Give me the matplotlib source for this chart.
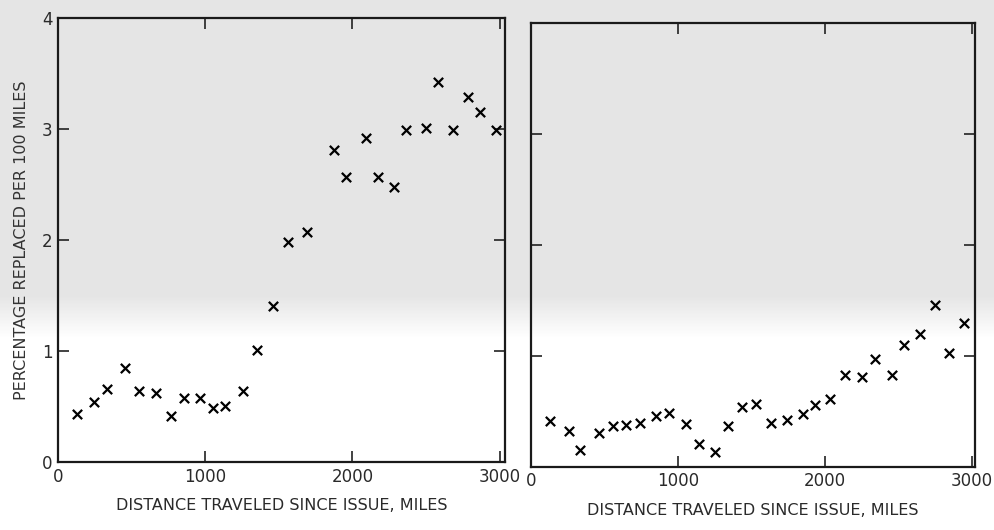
import numpy as np
import matplotlib
matplotlib.use('Agg')
from matplotlib import pyplot as plt

# left panel: percentage replaced per 100 miles vs distance
miles_a = [129, 244, 333, 452, 550, 663, 765, 853, 962, 1052, 1133, 1256, 1353, 1459,
           1561, 1690, 1873, 1957, 2093, 2174, 2285, 2364, 2500, 2584, 2686, 2783, 2869, 2975]
pct_a = [0.43, 0.54, 0.66, 0.85, 0.64, 0.62, 0.42, 0.58, 0.58, 0.49, 0.51, 0.64, 1.01, 1.41,
         1.98, 2.07, 2.81, 2.57, 2.92, 2.57, 2.48, 2.99, 3.01, 3.42, 2.99, 3.29, 3.15, 2.99]

# right panel (same axes, no y labels)
miles_b = [131, 255, 330, 463, 555, 643, 743, 853, 939, 1054, 1142, 1253, 1341, 1436, 1530,
           1634, 1740, 1851, 1932, 2032, 2140, 2253, 2343, 2456, 2537, 2648, 2749, 2844, 2948]
pct_b = [0.41, 0.32, 0.15, 0.31, 0.37, 0.38, 0.40, 0.46, 0.49, 0.39, 0.21, 0.13, 0.37, 0.54,
         0.57, 0.40, 0.42, 0.48, 0.56, 0.61, 0.83, 0.81, 0.97, 0.83, 1.10, 1.20, 1.46, 1.03, 1.30]

xticks = [0, 1000, 2000, 3000]
yticks = [0, 1, 2, 3, 4]
xlabel = 'DISTANCE TRAVELED SINCE ISSUE, MILES'
ylabel = 'PERCENTAGE REPLACED PER 100 MILES'

plt.rcParams['font.family'] = 'DejaVu Sans'
fig = plt.figure(figsize=(9.95, 5.3), dpi=100)

# scanned-paper look: grey upper part fading to white
rows = np.linspace(0, 1, 530)
shade = np.clip(0.9 + (rows - 0.56) / 0.08 * 0.1, 0.9, 1.0)
bg = np.repeat(shade[:, None], 995, axis=1)
bgax = fig.add_axes([0, 0, 1, 1], zorder=-1)
bgax.imshow(bg, cmap='gray', vmin=0, vmax=1, aspect='auto')
bgax.axis('off')

ax1 = fig.add_axes([0.0583, 0.128, 0.449, 0.838])
ax2 = fig.add_axes([0.5337, 0.119, 0.446, 0.838])

for ax, xs, ys, xmax in [(ax1, miles_a, pct_a, 3035), (ax2, miles_b, pct_b, 3020)]:
    ax.patch.set_alpha(0)
    ax.scatter(xs, ys, marker='x', s=45, linewidths=1.6, color='black', zorder=3)
    ax.set_xlim(0, xmax)
    ax.set_ylim(0, 4)
    ax.set_xticks(xticks)
    ax.set_yticks(yticks)
    ax.tick_params(direction='in', length=8, width=1.2, top=True, right=True,
                   labelsize=12, pad=4, color='#222222', labelcolor='#2a2a2a')
    for s in ax.spines.values():
        s.set_linewidth(1.6)
        s.set_color('#1a1a1a')
    ax.set_xlabel(xlabel, fontsize=11.5, color='#2a2a2a', labelpad=9)

ax1.set_ylabel(ylabel, fontsize=11.5, color='#333333', labelpad=9)
ax2.set_yticklabels([])

fig.savefig('out.png', dpi=100)
